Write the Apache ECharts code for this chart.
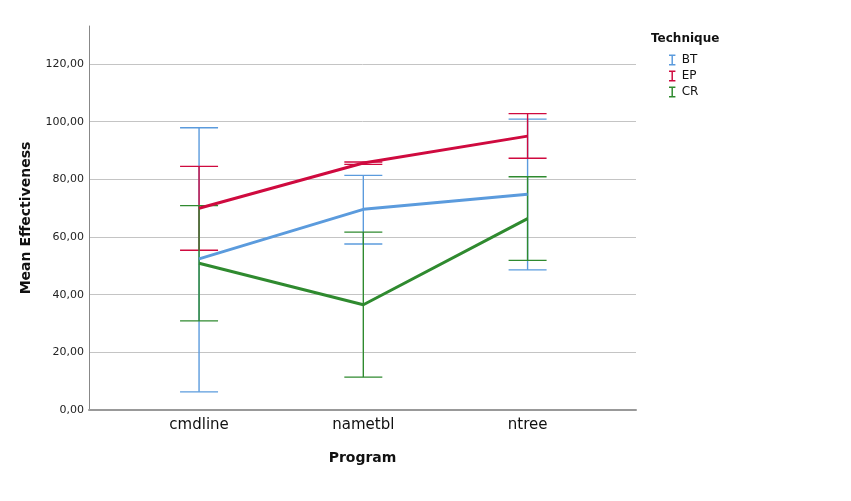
<!DOCTYPE html>
<html>
<head>
<meta charset="utf-8">
<script src="https://cdn.jsdelivr.net/npm/echarts@6/dist/echarts.min.js"></script>
<style>
    html, body { margin: 0; padding: 0; background: #fff; }
    #main { width: 851px; height: 501px; }
</style>
</head>
<body>
<div id="main"></div>
<script>
// 数据
var programs = ['cmdline', 'nametbl', 'ntree'];
var techniques = ['BT', 'EP', 'CR'];
var yTicks = [0, 20, 40, 60, 80, 100, 120];

var btMean = [52.4, 69.6, 74.8];
var btLow = [6.3, 57.6, 48.6];
var btHigh = [97.9, 81.4, 100.9];

var epMean = [70.0, 85.7, 95.0];
var epLow = [55.4, 85.2, 87.3];
var epHigh = [84.5, 86.0, 102.8];

var crMean = [50.9, 36.5, 66.4];
var crLow = [30.9, 11.4, 51.9];
var crHigh = [70.9, 61.7, 80.9];

var colors = ['#5b9bdd', '#cf0a3f', '#2f8a2f'];
var font = 'DejaVu Sans';

function toPoints(arr) {
    var out = [];
    for (var i = 0; i < arr.length; i++) {
        out.push([i, arr[i]]);
    }
    return out;
}

function toBars(lo, hi) {
    var out = [];
    for (var i = 0; i < lo.length; i++) {
        out.push([i, lo[i], hi[i]]);
    }
    return out;
}

function renderErrorBar(params, api) {
    var x = api.value(0);
    var lo = api.coord([x, api.value(1)]);
    var hi = api.coord([x, api.value(2)]);
    var half = 19;
    var style = {stroke: api.visual('color'), lineWidth: 1.4, fill: null};
    return {
        type: 'group',
        children: [
            {type: 'line', shape: {x1: lo[0], y1: lo[1], x2: hi[0], y2: hi[1]}, style: style},
            {type: 'line', shape: {x1: hi[0] - half, y1: hi[1], x2: hi[0] + half, y2: hi[1]}, style: style},
            {type: 'line', shape: {x1: lo[0] - half, y1: lo[1], x2: lo[0] + half, y2: lo[1]}, style: style}
        ]
    };
}

var means = [btMean, epMean, crMean];
var lows = [btLow, epLow, crLow];
var highs = [btHigh, epHigh, crHigh];

var series = [];
for (var k = 0; k < techniques.length; k++) {
    series.push({
        name: techniques[k],
        type: 'custom',
        renderItem: renderErrorBar,
        itemStyle: {color: colors[k]},
        encode: {x: 0, y: [1, 2]},
        data: toBars(lows[k], highs[k]),
        z: 2 + k
    });
}
for (var k = 0; k < techniques.length; k++) {
    series.push({
        name: techniques[k],
        type: 'line',
        showSymbol: false,
        symbol: 'none',
        lineStyle: {width: 3, color: colors[k]},
        itemStyle: {color: colors[k]},
        data: toPoints(means[k]),
        z: 10 + k
    });
}

var myChart = echarts.init(document.getElementById('main'));
var option = {
    animation: false,
    textStyle: {fontFamily: font},
    title: {
        text: 'Technique',
        left: 646,
        top: 28,
        textStyle: {fontFamily: font, fontSize: 12, fontWeight: 'bold', color: '#111'}
    },
    legend: {
        orient: 'vertical',
        left: 664,
        top: 49,
        itemWidth: 7,
        itemHeight: 11,
        itemGap: 4,
        data: techniques,
        icon: 'path://M0,0H7V1.6H4.3V10.4H7V12H0V10.4H2.7V1.6H0Z',
        textStyle: {fontFamily: font, fontSize: 12, color: '#111', padding: [0, 0, 0, 1]}
    },
    grid: {left: 89, right: 215, top: 26, bottom: 91},
    xAxis: {
        type: 'value',
        min: -0.67,
        max: 2.66,
        name: 'Program',
        nameLocation: 'middle',
        nameGap: 41,
        nameTextStyle: {fontFamily: font, fontSize: 14, fontWeight: 'bold', color: '#111'},
        axisLine: {show: true, onZero: false, lineStyle: {color: '#999', width: 2}},
        axisTick: {show: false},
        splitLine: {show: false},
        axisLabel: {
            customValues: [0, 1, 2],
            margin: 8,
            fontFamily: font,
            fontSize: 15,
            color: '#111',
            formatter: function (v) {
                return programs[Math.round(v)] || '';
            }
        }
    },
    yAxis: {
        type: 'value',
        min: 0,
        max: 133.2,
        interval: 20,
        name: 'Mean Effectiveness',
        nameLocation: 'middle',
        nameGap: 56,
        nameTextStyle: {fontFamily: font, fontSize: 14, fontWeight: 'bold', color: '#111'},
        axisLine: {show: true, onZero: false, lineStyle: {color: '#888', width: 1}},
        axisTick: {show: false},
        splitLine: {show: true, showMaxLine: false, showMinLine: false, lineStyle: {color: '#c4c4c4', width: 1}},
        axisLabel: {
            showMaxLabel: false,
            margin: 5,
            fontFamily: font,
            fontSize: 11,
            color: '#222',
            formatter: function (v) {
                if (yTicks.indexOf(v) < 0) {
                    return '';
                }
                return v.toFixed(2).replace('.', ',');
            }
        }
    },
    series: series
};
myChart.setOption(option);
</script>
</body>
</html>
